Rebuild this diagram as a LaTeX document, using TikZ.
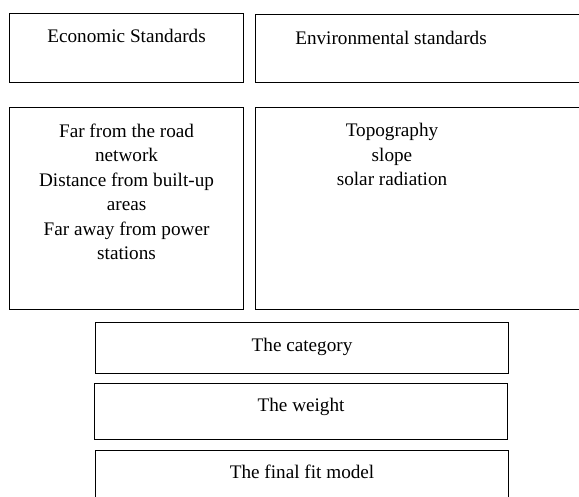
\documentclass[tikz,border=0pt]{standalone}
\usepackage{fontspec}
\setmainfont{Liberation Serif}
\usetikzlibrary{calc}

\begin{document}
\begin{tikzpicture}[x=1pt, y=-1pt,
    box/.style={draw, line width=1.1pt, rectangle, inner sep=0pt, anchor=north west},
    txt/.style={anchor=base, align=center, inner sep=0pt, font=\fontsize{19.2}{24.5}\selectfont}]
    \clip (0,0) rectangle (579,497);

    % Standards row
    \node[box, minimum width=234pt, minimum height=69.5pt] (eco) at (9,12.7) {};
    \node[box, minimum width=345pt, minimum height=68.5pt] (env) at (255,13.7) {};
    \node[txt] (ecotext) at ([yshift=-30pt]eco.north) {Economic Standards};
    \node[txt] (envtext) at ([xshift=136pt,yshift=-31pt]env.north west) {Environmental standards};

    % Criteria row (base anchor sits on the last line)
    \node[box, minimum width=234pt, minimum height=202pt] (ecocrit) at (9,107.3) {};
    \node[box, minimum width=345pt, minimum height=202.3pt] (envcrit) at (255,106.7) {};
    \node[txt] (ecocrittext) at ([yshift=-152.5pt]ecocrit.north)
        {Far from the road\\network\\Distance from built-up\\areas\\Far away from power\\stations};
    \node[txt] (envcrittext) at ([xshift=137pt,yshift=-79pt]envcrit.north west)
        {Topography\\slope\\solar radiation};

    % Steps
    \node[box, minimum width=413pt, minimum height=51pt] (category) at (95,322) {};
    \node[box, minimum width=413pt, minimum height=56pt] (weight) at (94,383) {};
    \node[box, minimum width=413pt, minimum height=70pt] (final) at (95,450) {};
    \node[txt] (categorytext) at ([yshift=-30pt]category.north) {The category};
    \node[txt] (weighttext) at ([yshift=-29pt]weight.north) {The weight};
    \node[txt] (finaltext) at ([yshift=-28pt]final.north) {The final fit model};
\end{tikzpicture}
\end{document}
